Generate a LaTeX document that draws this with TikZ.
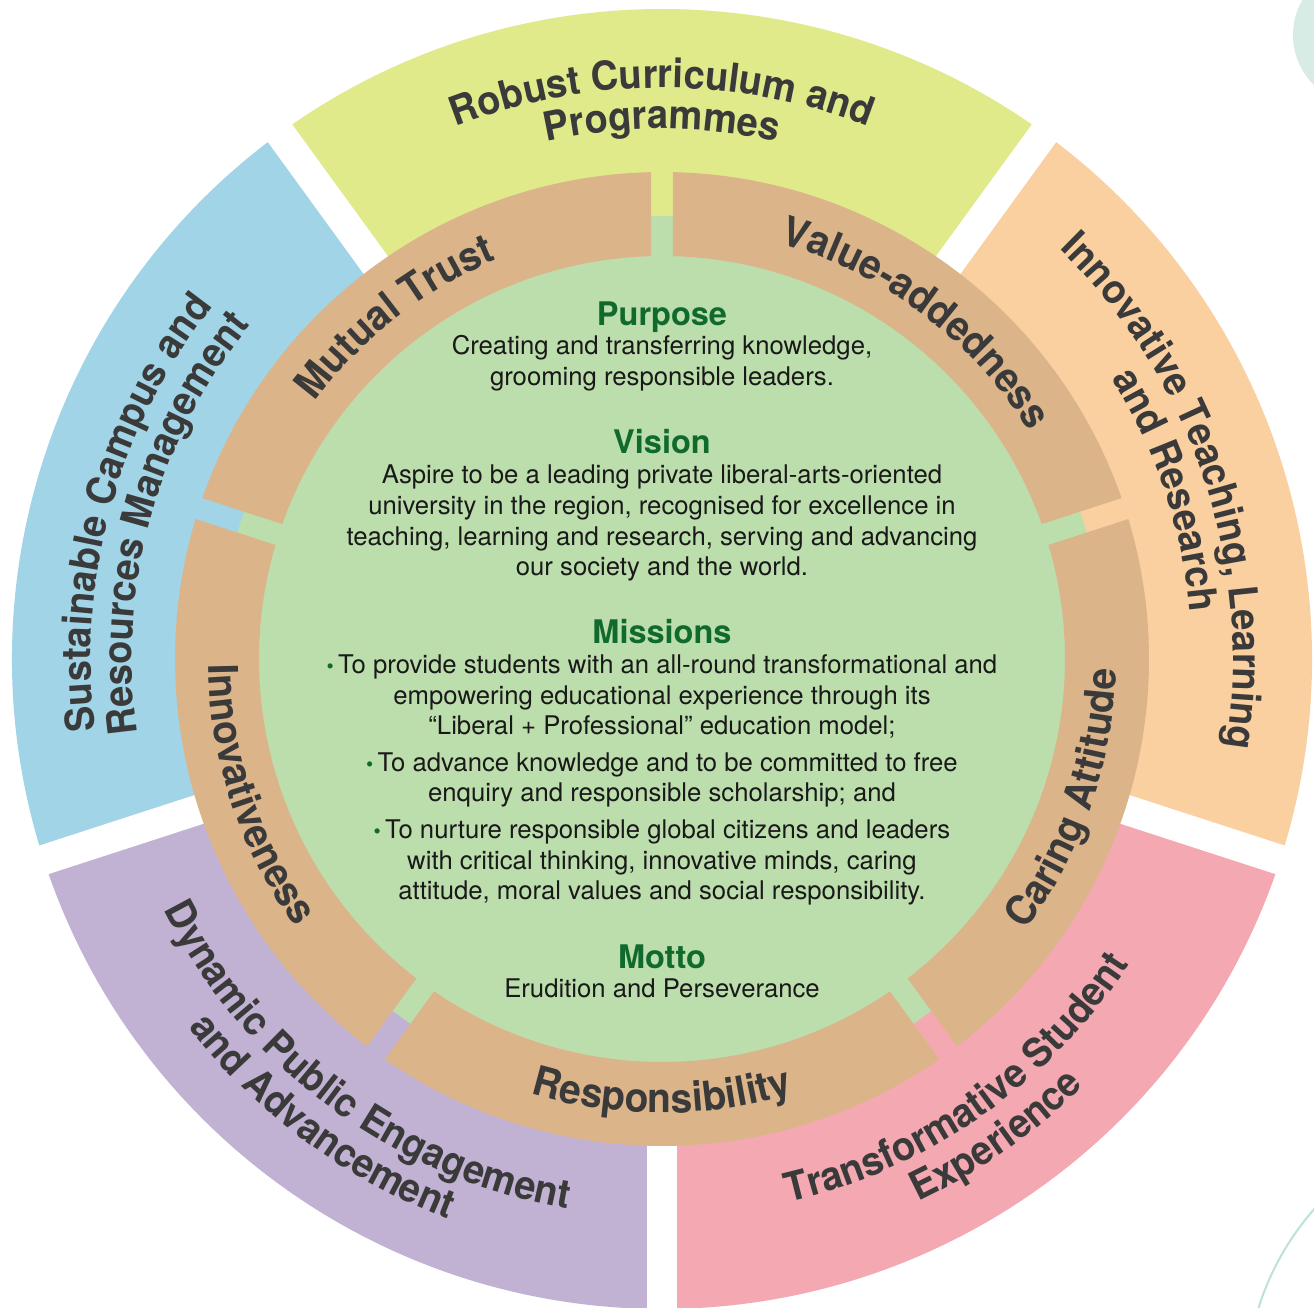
\documentclass[tikz,border=0pt]{standalone}
\usepackage{fontspec}
\setmainfont{TeX Gyre Heros}
\newfontfamily\lblfont[FakeStretch=0.95]{TeX Gyre Heros}
\usetikzlibrary{decorations.text}
\definecolor{cyellow}{RGB}{225,234,138}
\definecolor{corange}{RGB}{250,208,160}
\definecolor{cpink}{RGB}{244,169,178}
\definecolor{cpurple}{RGB}{193,178,212}
\definecolor{cblue}{RGB}{161,212,230}
\definecolor{ctan}{RGB}{220,180,138}
\definecolor{cgreen}{RGB}{188,221,172}
\definecolor{hgreen}{RGB}{16,106,46}
\definecolor{lbl}{RGB}{58,58,58}
\definecolor{tealfill}{RGB}{214,236,228}
\definecolor{tealline}{RGB}{190,226,215}
\newcommand{\outerfont}{\lblfont\bfseries\fontsize{40}{40}\selectfont}
\newcommand{\ringfont}{\lblfont\bfseries\fontsize{41}{41}\selectfont}
% clockwise arc label (tops outward): centre angle, radius, half span, font, text
\newcommand{\cwlabel}[5]{%
  \path[decorate, decoration={text along path, text align=center, text color=lbl, text={|#4|#5}}]
    ({#1+#3}:#2) arc[start angle={#1+#3}, end angle={#1-#3}, radius=#2];}
% counter-clockwise arc label (tops inward)
\newcommand{\ccwlabel}[5]{%
  \path[decorate, decoration={text along path, text align=center, text color=lbl, text={|#4|#5}}]
    ({#1-#3}:#2) arc[start angle={#1-#3}, end angle={#1+#3}, radius=#2];}
\begin{document}
\begin{tikzpicture}[x=1pt,y=1pt,
  body/.style={anchor=base, inner sep=0pt, text=black!90, font=\fontsize{25.7}{25.7}\selectfont},
  head/.style={anchor=base, inner sep=0pt, text=hgreen, font=\fontsize{32.5}{32.5}\selectfont\bfseries},
  gapline/.style={white, line width=30pt},
  tanseg/.style={fill=ctan}]
\clip (-662,-649) rectangle (652,659);
\fill[white] (-662,-649) rectangle (652,659);
% decorative page elements
\fill[tealfill] (701,624) circle[radius=70];
\draw[tealline, line width=2pt] (858,-731) circle[radius=274];
% outer sectors
\fill[corange] (0,0) -- (-18:650) arc[start angle=-18,end angle=54,radius=650] -- cycle;
\fill[cyellow] (0,0) -- (54:650) arc[start angle=54,end angle=126,radius=650] -- cycle;
\fill[cblue] (0,0) -- (126:650) arc[start angle=126,end angle=198,radius=650] -- cycle;
\fill[cpurple] (0,0) -- (198:650) arc[start angle=198,end angle=270,radius=650] -- cycle;
\fill[cpink] (0,0) -- (270:650) arc[start angle=270,end angle=342,radius=650] -- cycle;
\foreach \a in {270,342,54,126,198} \draw[gapline] (0,0) -- (\a:720);
% green core
\fill[cgreen] (0,0) circle[radius=443];
% tan value ring
\foreach \a in {18,90,162,234,306}
  \fill[tanseg] ({\a+1.294}:487) arc[start angle={\a+1.294}, end angle={\a+72-1.294}, radius=487]
    -- ({\a+72-1.564}:403) arc[start angle={\a+72-1.564}, end angle={\a+1.564}, radius=403] -- cycle;
% outer labels
\cwlabel{90}{571}{80}{\outerfont}{Robust Curriculum and}
\cwlabel{90}{530}{80}{\outerfont}{Programmes}
\cwlabel{18.5}{571}{80}{\outerfont}{Innovative Teaching, Learning}
\cwlabel{18.5}{530}{80}{\outerfont}{and Research}
\cwlabel{164.5}{571}{80}{\outerfont}{Sustainable Campus and}
\cwlabel{164.5}{530}{80}{\outerfont}{Resources Management}
\ccwlabel{305}{558}{80}{\outerfont}{Transformative Student}
\ccwlabel{305}{600}{80}{\outerfont}{Experience}
\ccwlabel{233.5}{558}{80}{\outerfont}{Dynamic Public Engagement}
\ccwlabel{233.5}{600}{80}{\outerfont}{and Advancement}
% ring labels
\cwlabel{128}{432}{50}{\ringfont}{Mutual Trust}
\cwlabel{53}{432}{50}{\ringfont}{Value-addedness}
\ccwlabel{198.5}{454}{50}{\ringfont}{Innovativeness}
\ccwlabel{270}{454}{50}{\ringfont}{Responsibility}
\ccwlabel{341}{454}{50}{\ringfont}{Caring Attitude}
% centre text
\node[head] (purpose) at (0,333) {Purpose};
\node[body] (p1) at (0,304) {Creating and transferring knowledge,};
\node[body] (p2) at (0,273) {grooming responsible leaders.};
\node[head] (vision) at (0,205) {Vision};
\node[body] (v1) at (0,175) {Aspire to be a leading private liberal-arts-oriented};
\node[body] (v2) at (0,144) {university in the region, recognised for excellence in};
\node[body] (v3) at (0,113) {teaching, learning and research, serving and advancing};
\node[body] (v4) at (0,83) {our society and the world.};
\node[head] (missions) at (0,15) {Missions};
\node[body] (m1) at (0,-15) {{\color{hgreen}\scalebox{0.8}{\textbullet}}\,To provide students with an all-round transformational and};
\node[body] (m2) at (0,-46) {empowering educational experience through its};
\node[body] (m3) at (0,-76) {“Liberal + Professional” education model;};
\node[body] (m4) at (0,-113) {{\color{hgreen}\scalebox{0.8}{\textbullet}}\,To advance knowledge and to be committed to free};
\node[body] (m5) at (0,-143) {enquiry and responsible scholarship; and};
\node[body] (m6) at (0,-179) {{\color{hgreen}\scalebox{0.8}{\textbullet}}\,To nurture responsible global citizens and leaders};
\node[body] (m7) at (0,-210) {with critical thinking, innovative minds, caring};
\node[body] (m8) at (0,-240) {attitude, moral values and social responsibility.};
\node[head] (motto) at (0,-309) {Motto};
\node[body] (mo1) at (0,-338) {Erudition and Perseverance};
\end{tikzpicture}
\end{document}
